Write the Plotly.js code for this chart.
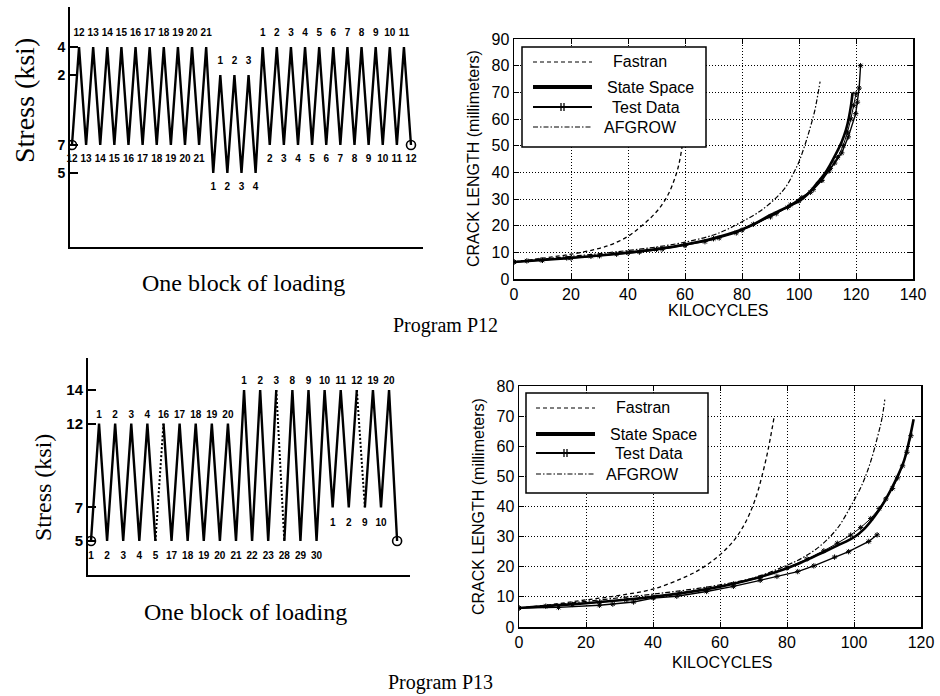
<!DOCTYPE html>
<html><head><meta charset="utf-8">
<script src="https://cdn.plot.ly/plotly-3.0.1.min.js"></script>
<style>html,body{margin:0;padding:0;background:#fff}#chart{width:940px;height:696px}</style>
</head><body><div id="chart"></div><script>
// ---------- Program P12: one block of loading (stress at each reversal, ksi) ----------
const p12Stress = [7,14,7,14,7,14,7,14,7,14,7,14,7,14,7,14,7,14,7,14,
                   5,12,5,12,5,12,5,
                   14,7,14,7,14,7,14,7,14,7,14,7,14,7,14,7,14,7,14,7,14,7];
const p12Labels = ["12","12","13","13","14","14","15","15","16","16","17","17","18","18","19","19","20","20","21","21",
                   "1","1","2","2","3","3","4",
                   "1","2","2","3","3","4","4","5","5","6","6","7","7","8","8","9","9","10","10","11","11","12"];
const p12Dotted = [];
const p12TickVals = [5,7,12,14];
const p12TickText = ["5","7","2","4"];

// ---------- Program P13: one block of loading ----------
const p13Stress = [5,12,5,12,5,12,5,12,5,12,5,12,5,12,5,12,5,12,5,
                   14,5,14,5,14,5,14,5,14,5,14,7,14,7,14,7,14,7,14,5];
const p13Labels = ["1","1","2","2","3","3","4","4","5","16","17","17","18","18","19","19","20","20","21",
                   "1","22","2","23","3","28","8","29","9","30","10","1","11","2","12","9","19","10","20",""];
const p13Dotted = [8,23,33];
const p13TickVals = [5,7,12,14];
const p13TickText = ["5","7","12","14"];

// ---------- Program P12 crack growth (kilocycles, mm) ----------
const fastran12X = [0,10,20,30,35,40,44,48,51,54,56,57.5,58.5,59.5,60.5,61.5];
const fastran12Y = [6.4,7.8,9.3,11.5,13.3,16,19.2,23,26.5,31.5,36.5,41.5,46.5,53.5,62,72];
const afgrow12X = [0,10,20,30,40,50,60,70,75,80,85,90,95,98,100,102,104,105.5,106.5,107.4];
const afgrow12Y = [6.4,7.5,8.5,9.5,10.7,12,13.8,16.5,18.7,21.5,24.5,28.5,34,39.5,44,50,57,63,68.5,74];
const state12X = [0,10,20,30,40,50,60,70,80,85,90,95,100,103,106,109,111,113,115,116.5,117.5,118.3,118.8];
const state12Y = [6.4,7.1,7.9,8.8,9.9,11.2,12.9,15.3,18.6,21,24,26.6,29.2,31.8,35.5,39.5,43,47,51.5,56,60.5,65.5,70];
const testA12X = [0,4.5,9.5,18.5,27,36,44,52,60,67,72,78,84,92,97,101,105,108,110.5,112.5,115,117.3,119.9,120.5,121.1,121.6];
const testA12Y = [6.4,6.8,7.2,7.9,8.5,9.3,10.1,11.2,12.6,14,15.4,17.3,20.5,24.5,27.8,30.5,33.5,37,40.5,43.5,47.3,53.3,62,66.3,71.6,80];
const testB12X = [0,10,20,30,40,50,60,70,80,90,96,100,104,108,111,113.5,115.5,117,118.2,119.2,120];
const testB12Y = [6.4,7.0,7.8,8.7,9.8,11.1,12.8,15.1,18.3,23.3,26.8,29.3,32.5,37,41.5,45.5,50,55,60,65,69.5];

// ---------- Program P13 crack growth ----------
const fastran13X = [0,10,20,30,40,50,55,60,64,67,69,71,72.5,74,75,76.2];
const fastran13Y = [6.3,7.5,9,10.5,12.6,16.8,19.8,24,28.5,33.5,38,44,50,57,62.5,70];
const afgrow13X = [0,10,20,30,40,50,60,70,80,85,90,95,99,102.5,105,107,108.3,109.2];
const afgrow13Y = [6.3,7.3,8.5,9.7,10.9,12.3,14,16.3,20.5,23.2,27,32.7,40,47.5,55,63,69,75.5];
const state13X = [0,10,20,30,40,50,60,70,80,85,90,95,100,103,106,109,111,113,115,116.5,117.8];
const state13Y = [6.3,7.1,7.9,8.9,10,11.5,13.4,16,19.5,21.8,24.4,27,29.8,32.5,36.5,41.5,45.5,50,55.4,62,69];
const testA13X = [0,11.8,24,28,34.2,40.1,47.1,56,64,72,77,83.2,88,94.2,98.4,104.4,106.9];
const testA13Y = [6.3,6.5,7.2,7.6,8.3,9.6,10.2,11.8,13.5,15.5,16.8,18.4,20.3,23.2,25,28.4,30.6];
const testB13X = [0,8,16,24,32,40,48,56,64,72,80,86,91,95,99,102,105,107.5,109.5,111.5,113,114.5,115.8,117];
const testB13Y = [6.3,6.9,7.5,8.2,9.0,10.0,11.2,12.6,14.3,16.4,19.6,22.6,25.3,27.8,30.5,33,36,39.3,42.5,46,49.5,53.5,58,63.5];

const legendNames = ["Fastran","State Space","Test Data","AFGROW"];

// ---------- helpers ----------
const W = 940, H = 696;
const px = x => x / W;
const py = y => 1 - y / H;
const SANS = "Liberation Sans, Arial, Helvetica, sans-serif";
const SERIF = "Liberation Serif, Times New Roman, serif";

function waveTraces(stress, labels, dotted, xa, ya, gapTop, gapBot) {
  const n = stress.length;
  const t = stress.map((_, i) => i);
  const sx = [], sy = [], dx = [], dy = [];
  for (let i = 0; i < n - 1; i++) {
    if (dotted.includes(i)) {
      sx.push(null); sy.push(null);
      dx.push(t[i], t[i + 1], null); dy.push(stress[i], stress[i + 1], null);
    } else {
      if (sx.length === 0 || sx[sx.length - 1] === null) { sx.push(t[i]); sy.push(stress[i]); }
      sx.push(t[i + 1]); sy.push(stress[i + 1]);
    }
  }
  const isPeak = stress.map((s, i) =>
    s > (i > 0 ? stress[i - 1] : -Infinity) && s > (i < n - 1 ? stress[i + 1] : -Infinity));
  const pk = {x: [], y: [], t: []}, vl = {x: [], y: [], t: []};
  stress.forEach((s, i) => { const o = isPeak[i] ? pk : vl; o.x.push(t[i]); o.y.push(s); o.t.push(labels[i]); });
  const common = {xaxis: xa, yaxis: ya, hoverinfo: 'skip', showlegend: false};
  const tf = {family: SANS, size: 10, color: '#000', weight: 700};
  return [
    {...common, type: 'scatter', mode: 'lines', x: sx, y: sy, line: {color: '#000', width: 2.4}},
    {...common, type: 'scatter', mode: 'lines', x: dx, y: dy, line: {color: '#000', width: 2, dash: '2px,2px'}},
    {...common, type: 'scatter', mode: 'markers', x: [t[0], t[n - 1]], y: [stress[0], stress[n - 1]],
      marker: {symbol: 'circle-open', size: 9, color: '#000', line: {width: 1.6, color: '#000'}}},
    {...common, type: 'scatter', mode: 'markers+text', x: pk.x, y: pk.y, text: pk.t, textposition: 'top center',
      textfont: tf, cliponaxis: false, marker: {size: gapTop, color: 'rgba(0,0,0,0)'}},
    {...common, type: 'scatter', mode: 'markers+text', x: vl.x, y: vl.y, text: vl.t, textposition: 'bottom center',
      textfont: tf, cliponaxis: false, marker: {size: gapBot, color: 'rgba(0,0,0,0)'}}
  ];
}

function crackTraces(xa, ya, fx, fy, ax, ay, sx, sy, tax, tay, tbx, tby) {
  const c = {xaxis: xa, yaxis: ya, type: 'scatter', showlegend: false, hoverinfo: 'x+y'};
  const mk = {symbol: 'asterisk-open', size: 4.5, color: '#000', line: {width: 1, color: '#000'}};
  return [
    {...c, name: legendNames[0], mode: 'lines', x: fx, y: fy, line: {color: '#000', width: 1.3, dash: '4px,3px', shape: 'spline'}},
    {...c, name: legendNames[3], mode: 'lines', x: ax, y: ay, line: {color: '#000', width: 1.2, dash: '5px,2px,1.5px,2px', shape: 'spline'}},
    {...c, name: legendNames[2], mode: 'lines+markers', x: tbx, y: tby, line: {color: '#000', width: 1}, marker: mk},
    {...c, name: legendNames[1], mode: 'lines', x: sx, y: sy, line: {color: '#000', width: 2.6, shape: 'spline'}},
    {...c, name: legendNames[2], mode: 'lines+markers', x: tax, y: tay, line: {color: '#000', width: 1.4}, marker: mk}
  ];
}

function waveX(d0, d1, r0, r1, anchor) {
  return {domain: [px(d0), px(d1)], range: [r0, r1], anchor, showline: true, linewidth: 2, linecolor: '#000',
    showticklabels: false, ticks: '', showgrid: false, zeroline: false, fixedrange: true};
}
function waveY(top, bot, r0, r1, anchor, vals, txt, fs) {
  return {domain: [py(bot), py(top)], range: [r0, r1], anchor, showline: true, linewidth: 2, linecolor: '#000',
    tickmode: 'array', tickvals: vals, ticktext: txt, ticks: 'inside', ticklen: 8, tickwidth: 2, tickcolor: '#000',
    tickfont: {family: SANS, size: fs, color: '#000', weight: 700}, showgrid: false, zeroline: false, fixedrange: true};
}
function crackX(l, r, max, anchor) {
  return {domain: [px(l), px(r)], range: [0, max], tick0: 0, dtick: 20, anchor,
    ticks: 'inside', ticklen: 5, tickcolor: '#000', showline: true, mirror: 'ticks', linecolor: '#000', linewidth: 1.5,
    showgrid: true, gridcolor: '#000', gridwidth: 1, griddash: '1px,2px', zeroline: false,
    tickfont: {family: SANS, size: 16, color: '#000'}, fixedrange: true};
}
function crackY(top, bot, max, anchor) {
  return {domain: [py(bot), py(top)], range: [0, max], tick0: 0, dtick: 10, anchor,
    ticks: 'inside', ticklen: 5, tickcolor: '#000', showline: true, mirror: 'ticks', linecolor: '#000', linewidth: 1.5,
    showgrid: true, gridcolor: '#000', gridwidth: 1, griddash: '1px,2px', zeroline: false,
    tickfont: {family: SANS, size: 16, color: '#000'}, fixedrange: true};
}

function legendBox(box, s0, s1, rows, textX) {
  const shapes = [], ann = [];
  const L = (x0, y0, x1, y1, w, dash) => ({type: 'line', xref: 'paper', yref: 'paper', layer: 'above',
    x0: px(x0), y0: py(y0), x1: px(x1), y1: py(y1), line: {color: '#000', width: w, dash: dash || 'solid'}});
  shapes.push({type: 'rect', xref: 'paper', yref: 'paper', layer: 'above',
    x0: px(box[0]), x1: px(box[2]), y0: py(box[3]), y1: py(box[1]), fillcolor: '#fff', line: {color: '#000', width: 1.5}});
  const styles = [[1.2, '4px,3px'], [4, 'solid'], [2, 'solid'], [1.2, '5px,2px,1.5px,2px']];
  rows.forEach((r, i) => {
    shapes.push(L(s0, r, s1, r, styles[i][0], styles[i][1]));
    ann.push({xref: 'paper', yref: 'paper', x: px(textX[i]), y: py(r), xanchor: 'center', yanchor: 'middle',
      text: legendNames[i], showarrow: false, font: {family: SANS, size: 16, color: '#000'}});
  });
  const cx = (s0 + s1) / 2, cy = rows[2];
  shapes.push(L(cx - 1.5, cy - 4, cx - 1.5, cy + 4, 1.3));
  shapes.push(L(cx + 1.5, cy - 4, cx + 1.5, cy + 4, 1.3));
  return {shapes, ann};
}

function textAnn(text, x, y, size, family, angle) {
  return {xref: 'paper', yref: 'paper', x: px(x), y: py(y), xanchor: 'center', yanchor: 'middle',
    text, showarrow: false, textangle: angle || 0, font: {family, size, color: '#000'}};
}

// ---------- build ----------
const data = [
  ...waveTraces(p12Stress, p12Labels, p12Dotted, 'x', 'y', 12, 14),
  ...crackTraces('x2', 'y2', fastran12X, fastran12Y, afgrow12X, afgrow12Y, state12X, state12Y, testA12X, testA12Y, testB12X, testB12Y),
  ...waveTraces(p13Stress, p13Labels, p13Dotted, 'x3', 'y3', 4, 16),
  ...crackTraces('x4', 'y4', fastran13X, fastran13Y, afgrow13X, afgrow13Y, state13X, state13Y, testA13X, testA13Y, testB13X, testB13Y)
];

const lg1 = legendBox([522, 47, 706, 147], 533, 592, [62, 87, 107, 127], [640, 650, 646, 640]);
const lg2 = legendBox([526, 393, 708, 493], 536, 595, [408, 434, 453, 474], [643, 653, 649, 642]);

const layout = {
  width: W, height: H, margin: {l: 0, r: 0, t: 0, b: 0},
  paper_bgcolor: '#fff', plot_bgcolor: 'rgba(0,0,0,0)', showlegend: false,
  xaxis: waveX(70, 423, -0.28, 49.7, 'y'),
  yaxis: waveY(7, 247, -0.29, 16.86, 'x', p12TickVals, p12TickText, 14),
  xaxis2: crackX(514, 913, 140, 'y2'),
  yaxis2: crackY(39, 279, 90, 'x2'),
  xaxis3: waveX(88, 410, -0.37, 39.6, 'y3'),
  yaxis3: waveY(358, 575, 2.97, 15.91, 'x3', p13TickVals, p13TickText, 15),
  xaxis4: crackX(519, 921, 120, 'y4'),
  yaxis4: crackY(386, 627, 80, 'x4'),
  shapes: [...lg1.shapes, ...lg2.shapes],
  annotations: [
    ...lg1.ann, ...lg2.ann,
    textAnn('Stress (ksi)', 24, 101, 28, SERIF, -90),
    textAnn('One block of loading', 243, 283, 24, SERIF),
    textAnn('Stress (ksi)', 43, 488, 24, SERIF, -90),
    textAnn('One block of loading', 245, 612, 24, SERIF),
    textAnn('CRACK LENGTH (millimeters)', 473, 159, 16, SANS, -90),
    textAnn('KILOCYCLES', 718, 310, 16, SANS),
    textAnn('CRACK LENGTH (millimeters)', 478, 507, 16, SANS, -90),
    textAnn('KILOCYCLES', 722, 662, 16, SANS),
    textAnn('Program P12', 445, 325, 20, SERIF),
    textAnn('Program P13', 440, 682, 20, SERIF)
  ]
};

Plotly.newPlot('chart', data, layout, {displayModeBar: false, staticPlot: true});
</script></body></html>
